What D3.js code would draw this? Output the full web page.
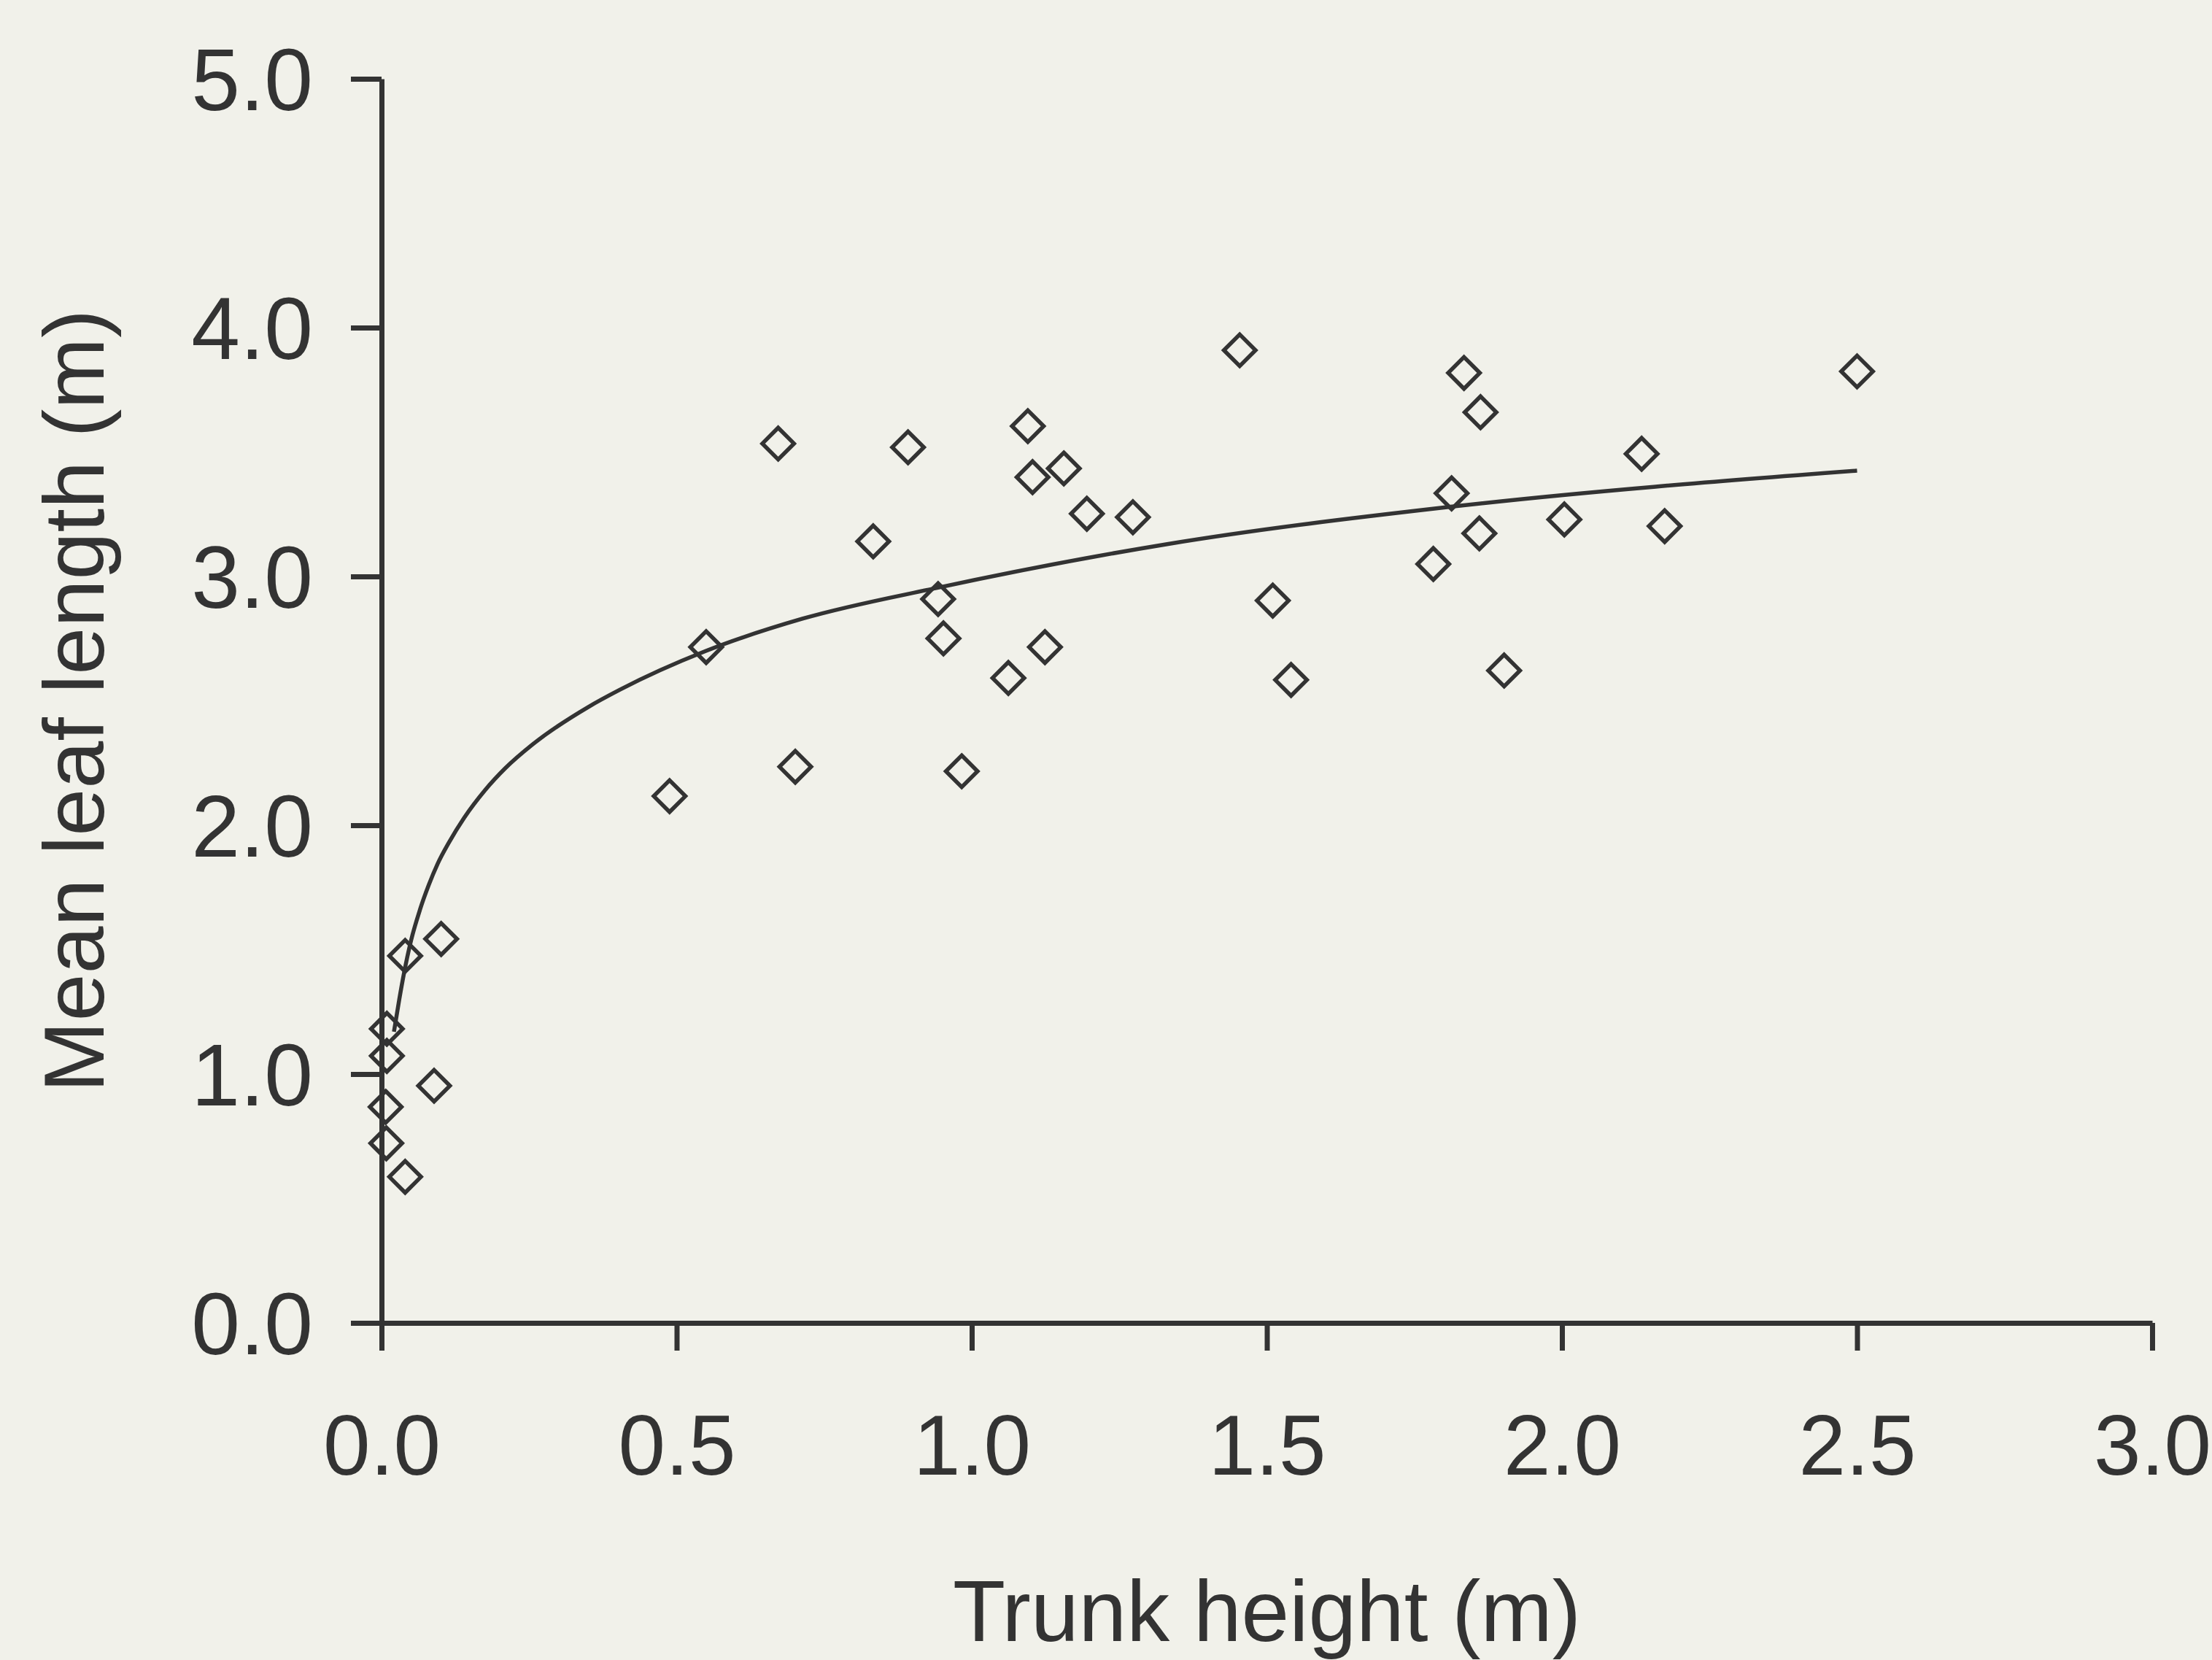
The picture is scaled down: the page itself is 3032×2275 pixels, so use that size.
<!DOCTYPE html>
<html>
<head>
<meta charset="utf-8">
<script src="https://cdn.jsdelivr.net/npm/d3@7"></script>
<style>
  html, body { margin: 0; padding: 0; background: #f1f1ea; }
  svg { display: block; }
</style>
</head>
<body>
<svg id="chart" width="3032" height="2275"></svg>
<script>
// ---- data ----
const trunkHeight = [
  0.040, 0.101, 0.009, 0.009, 0.089, 0.007, 0.008, 0.040,
  0.488, 0.550, 0.672, 0.701, 0.833, 0.892, 0.943, 0.952, 0.983,
  1.062, 1.095, 1.103, 1.156, 1.124, 1.195, 1.273, 1.454, 1.510, 1.541,
  1.782, 1.813, 1.834, 1.862, 1.860, 1.902, 2.004, 2.135, 2.174, 2.500
];
const leafLength = [
  1.475, 1.543, 1.182, 1.073, 0.953, 0.868, 0.722, 0.587,
  2.117, 2.716, 3.534, 2.235, 3.141, 3.519, 2.909, 2.751, 2.217,
  2.592, 3.604, 3.399, 3.434, 2.716, 3.252, 3.238, 3.909, 2.903, 2.584,
  3.050, 3.334, 3.818, 3.660, 3.173, 2.622, 3.229, 3.493, 3.202, 3.824
];
// fitted curve
const fitX = [0.021, 0.030, 0.038, 0.050, 0.065, 0.080, 0.095, 0.114, 0.140, 0.175, 0.210, 0.256, 0.350, 0.404, 0.549, 0.713, 0.943, 1.331, 1.811, 2.500];
const fitY = [1.170, 1.300, 1.405, 1.537, 1.660, 1.760, 1.845, 1.930, 2.030, 2.140, 2.230, 2.325, 2.475, 2.545, 2.700, 2.830, 2.955, 3.130, 3.280, 3.425];

const xTicks = [0, 0.5, 1.0, 1.5, 2.0, 2.5, 3.0];
const xTickLabels = ["0.0", "0.5", "1.0", "1.5", "2.0", "2.5", "3.0"];
const yTicks = [0, 1, 2, 3, 4, 5];
const yTickLabels = ["0.0", "1.0", "2.0", "3.0", "4.0", "5.0"];
const xTitle = "Trunk height (m)";
const yTitle = "Mean leaf length (m)";

// ---- layout ----
const ink = "#333333";
const font = "'Liberation Sans', Arial, sans-serif";
const plotLeft = 523, plotRight = 2950, plotTop = 108, plotBottom = 1813;

const svg = d3.select("#chart");
svg.append("rect").attr("width", 3032).attr("height", 2275).attr("fill", "#f1f1ea");

const x = d3.scaleLinear().domain([0, 3]).range([plotLeft, plotRight]);
const y = d3.scaleLinear().domain([0, 5]).range([plotBottom, plotTop]);

// axes
const xAxis = d3.axisBottom(x)
  .tickValues(xTicks)
  .tickFormat((d, i) => xTickLabels[i])
  .tickSize(38).tickSizeOuter(0).tickPadding(88);
const yAxis = d3.axisLeft(y)
  .tickValues(yTicks)
  .tickFormat((d, i) => yTickLabels[i])
  .tickSize(42).tickSizeOuter(0).tickPadding(52);

const gx = svg.append("g").attr("transform", `translate(0,${plotBottom})`).call(xAxis);
const gy = svg.append("g").attr("transform", `translate(${plotLeft},0)`).call(yAxis);

[gx, gy].forEach(g => {
  g.select(".domain").attr("stroke", ink).attr("stroke-width", 7);
  g.selectAll(".tick line").attr("stroke", ink).attr("stroke-width", 7);
  g.selectAll(".tick text")
    .attr("fill", ink)
    .style("font-family", font);
});
gx.selectAll(".tick text").style("font-size", "116px");
gy.selectAll(".tick text").style("font-size", "120px").attr("dy", "0.35em");

// axis titles
svg.append("text")
  .attr("x", (plotLeft + plotRight) / 2).attr("y", 2249)
  .attr("text-anchor", "middle")
  .attr("fill", ink)
  .style("font-family", font).style("font-size", "118px")
  .text(xTitle);

svg.append("text")
  .attr("transform", `translate(142,${(plotTop + plotBottom) / 2}) rotate(-90)`)
  .attr("text-anchor", "middle")
  .attr("fill", ink)
  .style("font-family", font).style("font-size", "117px")
  .text(yTitle);

// fitted curve
const fitData = fitX.map((v, i) => [v, fitY[i]]);
svg.append("path")
  .datum(fitData)
  .attr("fill", "none")
  .attr("stroke", ink)
  .attr("stroke-width", 5.5)
  .attr("d", d3.line().x(d => x(d[0])).y(d => y(d[1])).curve(d3.curveMonotoneX));

// points: open diamonds
const pts = trunkHeight.map((v, i) => [v, leafLength[i]]);
const diamond = d3.symbol().type(d3.symbolDiamond2).size(1200);
svg.append("g").selectAll("path")
  .data(pts)
  .join("path")
  .attr("transform", d => `translate(${x(d[0])},${y(d[1])})`)
  .attr("d", diamond)
  .attr("fill", "none")
  .attr("stroke", ink)
  .attr("stroke-width", 5.5);
</script>
</body>
</html>
